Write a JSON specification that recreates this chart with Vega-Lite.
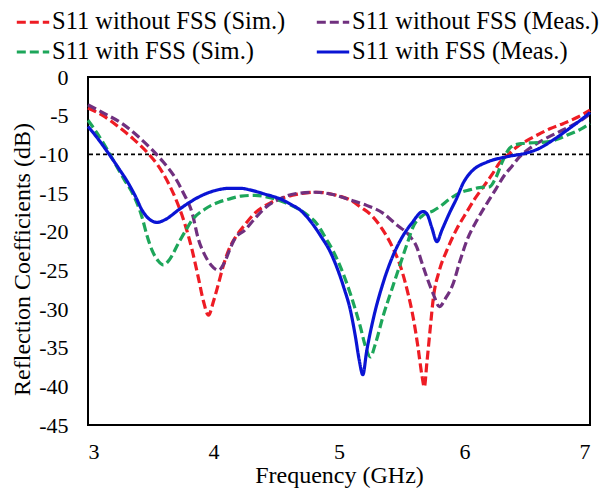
{
  "$schema": "https://vega.github.io/schema/vega-lite/v6.json",
  "width": 502,
  "height": 348,
  "autosize": {"type": "none"},
  "padding": {"left": 88, "top": 77, "right": 10, "bottom": 63},
  "background": "white",
  "config": {
    "view": {"stroke": "#000000", "strokeWidth": 2},
    "axis": {
      "domain": false,
      "grid": false,
      "ticks": false,
      "tickSize": 0,
      "labelOverlap": false,
      "labelFont": "Liberation Serif",
      "labelFontSize": 22,
      "labelColor": "#000000",
      "titleFont": "Liberation Serif",
      "titleFontSize": 24,
      "titleFontWeight": "normal",
      "titleColor": "#000000"
    },
    "legend": {
      "labelFont": "Liberation Serif",
      "labelFontSize": 24.5,
      "labelColor": "#000000",
      "labelLimit": 400
    }
  },
  "datasets": {
    "curves": [
      {"f": 3.00, "s": "S11 without FSS (Sim.)", "db": -4.0},
      {"f": 3.12, "s": "S11 without FSS (Sim.)", "db": -5.0},
      {"f": 3.24, "s": "S11 without FSS (Sim.)", "db": -6.4},
      {"f": 3.36, "s": "S11 without FSS (Sim.)", "db": -8.0},
      {"f": 3.48, "s": "S11 without FSS (Sim.)", "db": -9.9},
      {"f": 3.56, "s": "S11 without FSS (Sim.)", "db": -11.5},
      {"f": 3.64, "s": "S11 without FSS (Sim.)", "db": -13.7},
      {"f": 3.70, "s": "S11 without FSS (Sim.)", "db": -15.8},
      {"f": 3.77, "s": "S11 without FSS (Sim.)", "db": -18.9},
      {"f": 3.83, "s": "S11 without FSS (Sim.)", "db": -22.4},
      {"f": 3.88, "s": "S11 without FSS (Sim.)", "db": -26.0},
      {"f": 3.92, "s": "S11 without FSS (Sim.)", "db": -29.0},
      {"f": 3.96, "s": "S11 without FSS (Sim.)", "db": -30.8},
      {"f": 4.00, "s": "S11 without FSS (Sim.)", "db": -29.0},
      {"f": 4.04, "s": "S11 without FSS (Sim.)", "db": -26.7},
      {"f": 4.08, "s": "S11 without FSS (Sim.)", "db": -24.3},
      {"f": 4.12, "s": "S11 without FSS (Sim.)", "db": -22.4},
      {"f": 4.18, "s": "S11 without FSS (Sim.)", "db": -20.6},
      {"f": 4.25, "s": "S11 without FSS (Sim.)", "db": -19.1},
      {"f": 4.33, "s": "S11 without FSS (Sim.)", "db": -17.6},
      {"f": 4.45, "s": "S11 without FSS (Sim.)", "db": -16.3},
      {"f": 4.63, "s": "S11 without FSS (Sim.)", "db": -15.3},
      {"f": 4.82, "s": "S11 without FSS (Sim.)", "db": -14.9},
      {"f": 4.98, "s": "S11 without FSS (Sim.)", "db": -15.3},
      {"f": 5.10, "s": "S11 without FSS (Sim.)", "db": -16.0},
      {"f": 5.17, "s": "S11 without FSS (Sim.)", "db": -16.8},
      {"f": 5.26, "s": "S11 without FSS (Sim.)", "db": -17.9},
      {"f": 5.35, "s": "S11 without FSS (Sim.)", "db": -19.8},
      {"f": 5.42, "s": "S11 without FSS (Sim.)", "db": -21.8},
      {"f": 5.49, "s": "S11 without FSS (Sim.)", "db": -24.5},
      {"f": 5.55, "s": "S11 without FSS (Sim.)", "db": -28.0},
      {"f": 5.59, "s": "S11 without FSS (Sim.)", "db": -31.0},
      {"f": 5.63, "s": "S11 without FSS (Sim.)", "db": -35.0},
      {"f": 5.66, "s": "S11 without FSS (Sim.)", "db": -38.5},
      {"f": 5.68, "s": "S11 without FSS (Sim.)", "db": -40.1},
      {"f": 5.70, "s": "S11 without FSS (Sim.)", "db": -37.0},
      {"f": 5.73, "s": "S11 without FSS (Sim.)", "db": -32.0},
      {"f": 5.75, "s": "S11 without FSS (Sim.)", "db": -28.8},
      {"f": 5.80, "s": "S11 without FSS (Sim.)", "db": -25.0},
      {"f": 5.86, "s": "S11 without FSS (Sim.)", "db": -22.4},
      {"f": 5.94, "s": "S11 without FSS (Sim.)", "db": -19.6},
      {"f": 6.02, "s": "S11 without FSS (Sim.)", "db": -17.4},
      {"f": 6.08, "s": "S11 without FSS (Sim.)", "db": -15.8},
      {"f": 6.15, "s": "S11 without FSS (Sim.)", "db": -14.2},
      {"f": 6.22, "s": "S11 without FSS (Sim.)", "db": -12.6},
      {"f": 6.28, "s": "S11 without FSS (Sim.)", "db": -11.1},
      {"f": 6.35, "s": "S11 without FSS (Sim.)", "db": -10.0},
      {"f": 6.42, "s": "S11 without FSS (Sim.)", "db": -9.0},
      {"f": 6.50, "s": "S11 without FSS (Sim.)", "db": -8.2},
      {"f": 6.58, "s": "S11 without FSS (Sim.)", "db": -7.5},
      {"f": 6.68, "s": "S11 without FSS (Sim.)", "db": -6.7},
      {"f": 6.79, "s": "S11 without FSS (Sim.)", "db": -6.0},
      {"f": 6.90, "s": "S11 without FSS (Sim.)", "db": -5.2},
      {"f": 7.00, "s": "S11 without FSS (Sim.)", "db": -4.3},

      {"f": 3.00, "s": "S11 without FSS (Meas.)", "db": -3.6},
      {"f": 3.14, "s": "S11 without FSS (Meas.)", "db": -4.8},
      {"f": 3.27, "s": "S11 without FSS (Meas.)", "db": -6.0},
      {"f": 3.40, "s": "S11 without FSS (Meas.)", "db": -7.7},
      {"f": 3.51, "s": "S11 without FSS (Meas.)", "db": -9.4},
      {"f": 3.60, "s": "S11 without FSS (Meas.)", "db": -11.0},
      {"f": 3.69, "s": "S11 without FSS (Meas.)", "db": -12.9},
      {"f": 3.76, "s": "S11 without FSS (Meas.)", "db": -15.0},
      {"f": 3.83, "s": "S11 without FSS (Meas.)", "db": -17.6},
      {"f": 3.88, "s": "S11 without FSS (Meas.)", "db": -21.0},
      {"f": 3.93, "s": "S11 without FSS (Meas.)", "db": -23.0},
      {"f": 3.98, "s": "S11 without FSS (Meas.)", "db": -24.3},
      {"f": 4.04, "s": "S11 without FSS (Meas.)", "db": -25.0},
      {"f": 4.09, "s": "S11 without FSS (Meas.)", "db": -23.9},
      {"f": 4.13, "s": "S11 without FSS (Meas.)", "db": -22.3},
      {"f": 4.17, "s": "S11 without FSS (Meas.)", "db": -20.9},
      {"f": 4.25, "s": "S11 without FSS (Meas.)", "db": -19.8},
      {"f": 4.33, "s": "S11 without FSS (Meas.)", "db": -18.3},
      {"f": 4.42, "s": "S11 without FSS (Meas.)", "db": -16.8},
      {"f": 4.51, "s": "S11 without FSS (Meas.)", "db": -15.9},
      {"f": 4.65, "s": "S11 without FSS (Meas.)", "db": -15.1},
      {"f": 4.82, "s": "S11 without FSS (Meas.)", "db": -14.9},
      {"f": 4.95, "s": "S11 without FSS (Meas.)", "db": -15.2},
      {"f": 5.09, "s": "S11 without FSS (Meas.)", "db": -15.9},
      {"f": 5.22, "s": "S11 without FSS (Meas.)", "db": -16.6},
      {"f": 5.35, "s": "S11 without FSS (Meas.)", "db": -17.6},
      {"f": 5.45, "s": "S11 without FSS (Meas.)", "db": -19.0},
      {"f": 5.57, "s": "S11 without FSS (Meas.)", "db": -20.7},
      {"f": 5.62, "s": "S11 without FSS (Meas.)", "db": -22.0},
      {"f": 5.66, "s": "S11 without FSS (Meas.)", "db": -24.0},
      {"f": 5.70, "s": "S11 without FSS (Meas.)", "db": -25.9},
      {"f": 5.75, "s": "S11 without FSS (Meas.)", "db": -28.0},
      {"f": 5.80, "s": "S11 without FSS (Meas.)", "db": -29.7},
      {"f": 5.85, "s": "S11 without FSS (Meas.)", "db": -28.6},
      {"f": 5.91, "s": "S11 without FSS (Meas.)", "db": -26.7},
      {"f": 5.96, "s": "S11 without FSS (Meas.)", "db": -24.0},
      {"f": 6.02, "s": "S11 without FSS (Meas.)", "db": -21.1},
      {"f": 6.10, "s": "S11 without FSS (Meas.)", "db": -18.5},
      {"f": 6.18, "s": "S11 without FSS (Meas.)", "db": -16.3},
      {"f": 6.25, "s": "S11 without FSS (Meas.)", "db": -14.5},
      {"f": 6.31, "s": "S11 without FSS (Meas.)", "db": -12.9},
      {"f": 6.38, "s": "S11 without FSS (Meas.)", "db": -11.5},
      {"f": 6.44, "s": "S11 without FSS (Meas.)", "db": -10.3},
      {"f": 6.53, "s": "S11 without FSS (Meas.)", "db": -9.1},
      {"f": 6.63, "s": "S11 without FSS (Meas.)", "db": -8.1},
      {"f": 6.74, "s": "S11 without FSS (Meas.)", "db": -7.2},
      {"f": 6.84, "s": "S11 without FSS (Meas.)", "db": -6.4},
      {"f": 6.92, "s": "S11 without FSS (Meas.)", "db": -5.7},
      {"f": 7.00, "s": "S11 without FSS (Meas.)", "db": -4.8},

      {"f": 3.00, "s": "S11 with FSS (Sim.)", "db": -5.6},
      {"f": 3.07, "s": "S11 with FSS (Sim.)", "db": -7.2},
      {"f": 3.15, "s": "S11 with FSS (Sim.)", "db": -9.3},
      {"f": 3.22, "s": "S11 with FSS (Sim.)", "db": -11.3},
      {"f": 3.29, "s": "S11 with FSS (Sim.)", "db": -13.3},
      {"f": 3.36, "s": "S11 with FSS (Sim.)", "db": -15.2},
      {"f": 3.43, "s": "S11 with FSS (Sim.)", "db": -18.1},
      {"f": 3.47, "s": "S11 with FSS (Sim.)", "db": -20.5},
      {"f": 3.51, "s": "S11 with FSS (Sim.)", "db": -22.4},
      {"f": 3.56, "s": "S11 with FSS (Sim.)", "db": -23.8},
      {"f": 3.60, "s": "S11 with FSS (Sim.)", "db": -24.3},
      {"f": 3.65, "s": "S11 with FSS (Sim.)", "db": -23.6},
      {"f": 3.72, "s": "S11 with FSS (Sim.)", "db": -21.5},
      {"f": 3.78, "s": "S11 with FSS (Sim.)", "db": -19.8},
      {"f": 3.83, "s": "S11 with FSS (Sim.)", "db": -18.5},
      {"f": 3.93, "s": "S11 with FSS (Sim.)", "db": -17.1},
      {"f": 4.04, "s": "S11 with FSS (Sim.)", "db": -16.2},
      {"f": 4.12, "s": "S11 with FSS (Sim.)", "db": -15.8},
      {"f": 4.22, "s": "S11 with FSS (Sim.)", "db": -15.4},
      {"f": 4.33, "s": "S11 with FSS (Sim.)", "db": -15.3},
      {"f": 4.45, "s": "S11 with FSS (Sim.)", "db": -15.6},
      {"f": 4.58, "s": "S11 with FSS (Sim.)", "db": -16.3},
      {"f": 4.69, "s": "S11 with FSS (Sim.)", "db": -17.2},
      {"f": 4.76, "s": "S11 with FSS (Sim.)", "db": -18.0},
      {"f": 4.82, "s": "S11 with FSS (Sim.)", "db": -18.9},
      {"f": 4.90, "s": "S11 with FSS (Sim.)", "db": -21.0},
      {"f": 4.95, "s": "S11 with FSS (Sim.)", "db": -22.4},
      {"f": 5.01, "s": "S11 with FSS (Sim.)", "db": -24.5},
      {"f": 5.09, "s": "S11 with FSS (Sim.)", "db": -28.0},
      {"f": 5.17, "s": "S11 with FSS (Sim.)", "db": -32.3},
      {"f": 5.21, "s": "S11 with FSS (Sim.)", "db": -34.8},
      {"f": 5.25, "s": "S11 with FSS (Sim.)", "db": -36.2},
      {"f": 5.29, "s": "S11 with FSS (Sim.)", "db": -34.5},
      {"f": 5.35, "s": "S11 with FSS (Sim.)", "db": -31.0},
      {"f": 5.42, "s": "S11 with FSS (Sim.)", "db": -27.5},
      {"f": 5.49, "s": "S11 with FSS (Sim.)", "db": -24.1},
      {"f": 5.54, "s": "S11 with FSS (Sim.)", "db": -21.7},
      {"f": 5.59, "s": "S11 with FSS (Sim.)", "db": -19.4},
      {"f": 5.66, "s": "S11 with FSS (Sim.)", "db": -18.0},
      {"f": 5.75, "s": "S11 with FSS (Sim.)", "db": -17.3},
      {"f": 5.80, "s": "S11 with FSS (Sim.)", "db": -16.8},
      {"f": 5.88, "s": "S11 with FSS (Sim.)", "db": -15.8},
      {"f": 5.96, "s": "S11 with FSS (Sim.)", "db": -15.0},
      {"f": 6.04, "s": "S11 with FSS (Sim.)", "db": -14.6},
      {"f": 6.12, "s": "S11 with FSS (Sim.)", "db": -14.3},
      {"f": 6.20, "s": "S11 with FSS (Sim.)", "db": -14.2},
      {"f": 6.25, "s": "S11 with FSS (Sim.)", "db": -13.0},
      {"f": 6.30, "s": "S11 with FSS (Sim.)", "db": -11.0},
      {"f": 6.35, "s": "S11 with FSS (Sim.)", "db": -9.4},
      {"f": 6.40, "s": "S11 with FSS (Sim.)", "db": -8.8},
      {"f": 6.46, "s": "S11 with FSS (Sim.)", "db": -8.6},
      {"f": 6.55, "s": "S11 with FSS (Sim.)", "db": -8.5},
      {"f": 6.66, "s": "S11 with FSS (Sim.)", "db": -8.4},
      {"f": 6.75, "s": "S11 with FSS (Sim.)", "db": -8.0},
      {"f": 6.82, "s": "S11 with FSS (Sim.)", "db": -7.5},
      {"f": 6.92, "s": "S11 with FSS (Sim.)", "db": -6.8},
      {"f": 7.00, "s": "S11 with FSS (Sim.)", "db": -6.0},

      {"f": 3.00, "s": "S11 with FSS (Meas.)", "db": -6.4},
      {"f": 3.08, "s": "S11 with FSS (Meas.)", "db": -8.0},
      {"f": 3.16, "s": "S11 with FSS (Meas.)", "db": -9.8},
      {"f": 3.24, "s": "S11 with FSS (Meas.)", "db": -11.7},
      {"f": 3.32, "s": "S11 with FSS (Meas.)", "db": -13.7},
      {"f": 3.38, "s": "S11 with FSS (Meas.)", "db": -15.5},
      {"f": 3.43, "s": "S11 with FSS (Meas.)", "db": -17.2},
      {"f": 3.49, "s": "S11 with FSS (Meas.)", "db": -18.4},
      {"f": 3.55, "s": "S11 with FSS (Meas.)", "db": -18.8},
      {"f": 3.62, "s": "S11 with FSS (Meas.)", "db": -18.4},
      {"f": 3.72, "s": "S11 with FSS (Meas.)", "db": -17.2},
      {"f": 3.81, "s": "S11 with FSS (Meas.)", "db": -16.2},
      {"f": 3.91, "s": "S11 with FSS (Meas.)", "db": -15.3},
      {"f": 4.01, "s": "S11 with FSS (Meas.)", "db": -14.7},
      {"f": 4.12, "s": "S11 with FSS (Meas.)", "db": -14.4},
      {"f": 4.22, "s": "S11 with FSS (Meas.)", "db": -14.4},
      {"f": 4.29, "s": "S11 with FSS (Meas.)", "db": -14.6},
      {"f": 4.40, "s": "S11 with FSS (Meas.)", "db": -15.1},
      {"f": 4.55, "s": "S11 with FSS (Meas.)", "db": -15.9},
      {"f": 4.62, "s": "S11 with FSS (Meas.)", "db": -16.5},
      {"f": 4.69, "s": "S11 with FSS (Meas.)", "db": -17.2},
      {"f": 4.78, "s": "S11 with FSS (Meas.)", "db": -18.8},
      {"f": 4.86, "s": "S11 with FSS (Meas.)", "db": -20.7},
      {"f": 4.93, "s": "S11 with FSS (Meas.)", "db": -22.6},
      {"f": 4.98, "s": "S11 with FSS (Meas.)", "db": -24.5},
      {"f": 5.04, "s": "S11 with FSS (Meas.)", "db": -27.3},
      {"f": 5.09, "s": "S11 with FSS (Meas.)", "db": -30.1},
      {"f": 5.13, "s": "S11 with FSS (Meas.)", "db": -33.5},
      {"f": 5.16, "s": "S11 with FSS (Meas.)", "db": -36.5},
      {"f": 5.19, "s": "S11 with FSS (Meas.)", "db": -38.5},
      {"f": 5.22, "s": "S11 with FSS (Meas.)", "db": -35.5},
      {"f": 5.27, "s": "S11 with FSS (Meas.)", "db": -31.5},
      {"f": 5.35, "s": "S11 with FSS (Meas.)", "db": -26.7},
      {"f": 5.42, "s": "S11 with FSS (Meas.)", "db": -23.5},
      {"f": 5.49, "s": "S11 with FSS (Meas.)", "db": -21.1},
      {"f": 5.58, "s": "S11 with FSS (Meas.)", "db": -18.9},
      {"f": 5.67, "s": "S11 with FSS (Meas.)", "db": -17.4},
      {"f": 5.70, "s": "S11 with FSS (Meas.)", "db": -17.7},
      {"f": 5.74, "s": "S11 with FSS (Meas.)", "db": -19.5},
      {"f": 5.78, "s": "S11 with FSS (Meas.)", "db": -21.3},
      {"f": 5.82, "s": "S11 with FSS (Meas.)", "db": -19.8},
      {"f": 5.88, "s": "S11 with FSS (Meas.)", "db": -17.6},
      {"f": 5.94, "s": "S11 with FSS (Meas.)", "db": -15.6},
      {"f": 5.99, "s": "S11 with FSS (Meas.)", "db": -13.7},
      {"f": 6.03, "s": "S11 with FSS (Meas.)", "db": -12.7},
      {"f": 6.07, "s": "S11 with FSS (Meas.)", "db": -12.0},
      {"f": 6.18, "s": "S11 with FSS (Meas.)", "db": -11.0},
      {"f": 6.34, "s": "S11 with FSS (Meas.)", "db": -10.3},
      {"f": 6.50, "s": "S11 with FSS (Meas.)", "db": -9.8},
      {"f": 6.60, "s": "S11 with FSS (Meas.)", "db": -9.2},
      {"f": 6.71, "s": "S11 with FSS (Meas.)", "db": -8.1},
      {"f": 6.84, "s": "S11 with FSS (Meas.)", "db": -6.6},
      {"f": 6.97, "s": "S11 with FSS (Meas.)", "db": -5.0},
      {"f": 7.00, "s": "S11 with FSS (Meas.)", "db": -4.6}
    ],
    "threshold": [{"db": -10}]
  },
  "encoding": {
    "y": {
      "field": "db",
      "type": "quantitative",
      "scale": {"domain": [-45, 0], "nice": false, "zero": false},
      "axis": {
        "values": [0, -5, -10, -15, -20, -25, -30, -35, -40, -45],
        "labelExpr": "'' + datum.value",
        "labelFont": "Liberation Serif",
        "labelFontSize": 22,
        "labelOverlap": false,
        "labelBound": false,
        "title": "Reflection Coefficients (dB)",
        "labelPadding": 20,
        "titleX": -66,
        "titleY": 182,
        "titleBaseline": "middle",
        "titleAngle": -90
      }
    }
  },
  "layer": [
    {
      "data": {"name": "threshold"},
      "mark": {"type": "rule", "color": "#000000", "strokeWidth": 1.6, "strokeDash": [4, 3]}
    },
    {
      "data": {"name": "curves"},
      "mark": {"type": "line", "interpolate": "monotone", "strokeWidth": 3.2, "strokeCap": "butt"},
      "encoding": {
        "x": {
          "field": "f",
          "type": "quantitative",
          "scale": {"domain": [3, 7], "nice": false, "zero": false},
          "axis": {
            "values": [3, 4, 5, 6, 7],
            "labelExpr": "'' + datum.value",
            "labelFont": "Liberation Serif",
            "labelFontSize": 22,
            "labelOverlap": false,
            "title": "Frequency (GHz)",
            "labelPadding": 16,
            "titleY": 50,
            "titleBaseline": "middle"
          }
        },
        "color": {
          "field": "s",
          "type": "nominal",
          "scale": {
            "domain": ["S11 without FSS (Sim.)", "S11 without FSS (Meas.)", "S11 with FSS (Sim.)", "S11 with FSS (Meas.)"],
            "range": ["#ee1c24", "#70307f", "#1da65a", "#0a14d4"]
          },
          "legend": {
            "title": null,
            "orient": "none",
            "legendX": -73,
            "legendY": -73,
            "direction": "horizontal",
            "columns": 2,
            "columnPadding": 24,
            "rowPadding": -3,
            "padding": 0,
            "symbolType": "stroke",
            "symbolSize": 1050,
            "symbolStrokeWidth": 3.2,
            "labelOffset": 1,
            "labelFont": "Liberation Serif",
            "labelFontSize": 24.5,
            "labelLimit": 400
          }
        },
        "strokeDash": {
          "field": "s",
          "type": "nominal",
          "scale": {
            "domain": ["S11 without FSS (Sim.)", "S11 without FSS (Meas.)", "S11 with FSS (Sim.)", "S11 with FSS (Meas.)"],
            "range": [[9, 4], [9, 4], [9, 4], [1, 0]]
          },
          "legend": null
        }
      }
    }
  ]
}
